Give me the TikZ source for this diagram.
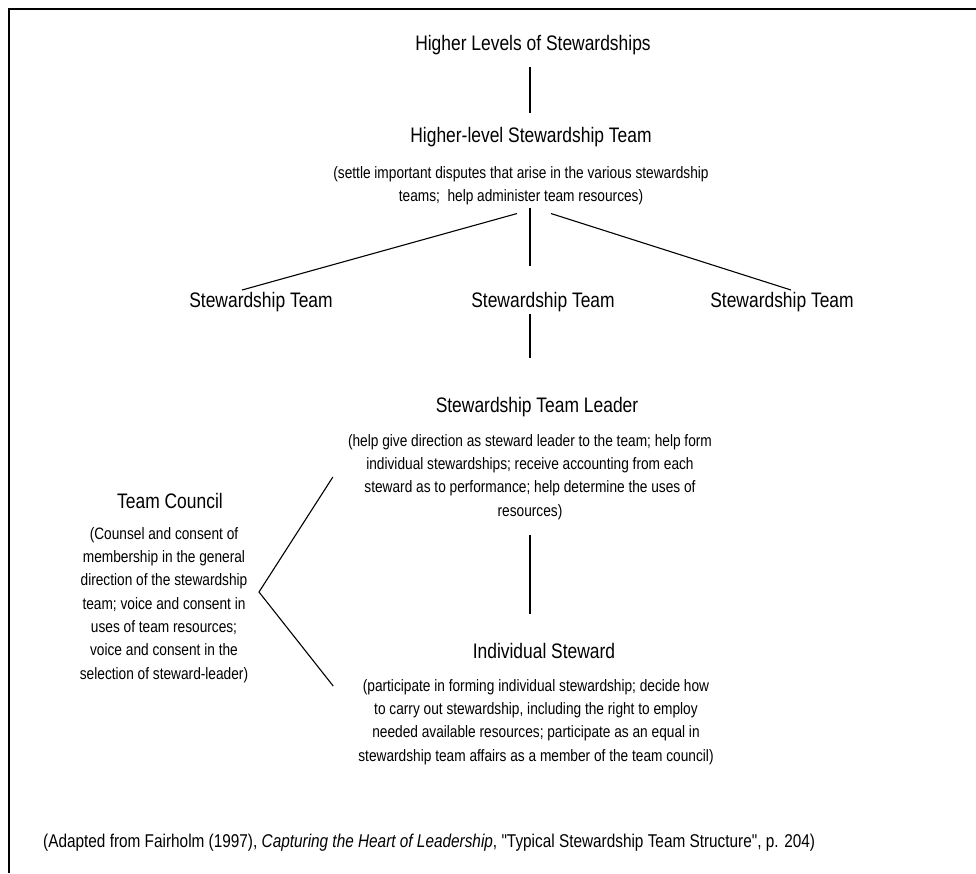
\documentclass[tikz,border=0pt]{standalone}
\usepackage{fontspec}
\setmainfont{Liberation Sans}[FakeStretch=0.83, Ligatures=TeXOff]
\usepackage{tikz}
\usetikzlibrary{positioning,calc}

\begin{document}
\begin{tikzpicture}[
    x=1pt, y=-1pt,
    title/.style={font=\fontsize{21}{25}\selectfont, inner sep=2pt},
    note/.style={font=\fontsize{16.5}{23.3}\selectfont, align=center, inner sep=2pt},
    link/.style={line width=1.1pt}
]
\useasboundingbox (0,0) rectangle (976,873);
\draw[line width=1.6pt] (9,873) -- (9,9) -- (976,9);
\coordinate (spine) at (530,0);

% Higher levels
\node[title] (higher) at (533,45) {Higher Levels of Stewardships};
\node[title] (hlteam) at (531,137) {Higher-level Stewardship Team};
\node[note] (hldesc) at (521,186) {(settle important disputes that arise in the various stewardship\\teams;\ \ help administer team resources)};

\draw[link, shorten <=10pt, shorten >=12pt] (higher.south -| spine) -- (hlteam.north -| spine);

% Stewardship teams
\node[title] (teamA) at (261,302) {Stewardship Team};
\node[title] (teamB) at (543,302) {Stewardship Team};
\node[title] (teamC) at (782,302) {Stewardship Team};

\draw[link] ([xshift=-4pt,yshift=-6pt]hldesc.south) -- ([xshift=-19pt]teamA.north);
\draw[link, shorten >=24pt] (hldesc.south -| spine) -- (teamB.north -| spine);
\draw[link] ([xshift=30pt,yshift=-6pt]hldesc.south) -- ([xshift=9pt]teamC.north);

% Team leader and steward
\node[title] (leader) at (537,407) {Stewardship Team Leader};
\node[note] (leaderdesc) at (530,477) {(help give direction as steward leader to the team; help form\\individual stewardships; receive accounting from each\\steward as to performance; help determine the uses of\\resources)};
\node[title] (steward) at (544,651) {Individual Steward};
\node[note] (stewarddesc) at (536,722) {(participate in forming individual stewardship; decide how\\to carry out stewardship, including the right to employ\\needed available resources; participate as an equal in\\stewardship team affairs as a member of the team council)};

\draw[link, shorten >=37pt] (teamB.south -| spine) -- (leader.north -| spine);
\draw[link, shorten <=13pt, shorten >=27pt] (leaderdesc.south -| spine) -- (steward.north -| spine);

% Team council
\node[title] (council) at (170,501) {Team Council};
\node[note] (councildesc) at (164,605) {(Counsel and consent of\\membership in the general\\direction of the stewardship\\team; voice and consent in\\uses of team resources;\\voice and consent in the\\selection of steward-leader)};
\coordinate (fork) at (259,592);

\draw[link] ([xshift=-13pt]leaderdesc.west) -- (fork) -- ([xshift=-23pt,yshift=36pt]stewarddesc.west);

% Source
\node[font=\fontsize{18.5}{22}\selectfont, anchor=west, inner sep=2pt] (source) at (41,843) {(Adapted from Fairholm (1997), \textit{Capturing the Heart of Leadership}, "Typical Stewardship Team Structure", p. 204)};
\end{tikzpicture}
\end{document}
